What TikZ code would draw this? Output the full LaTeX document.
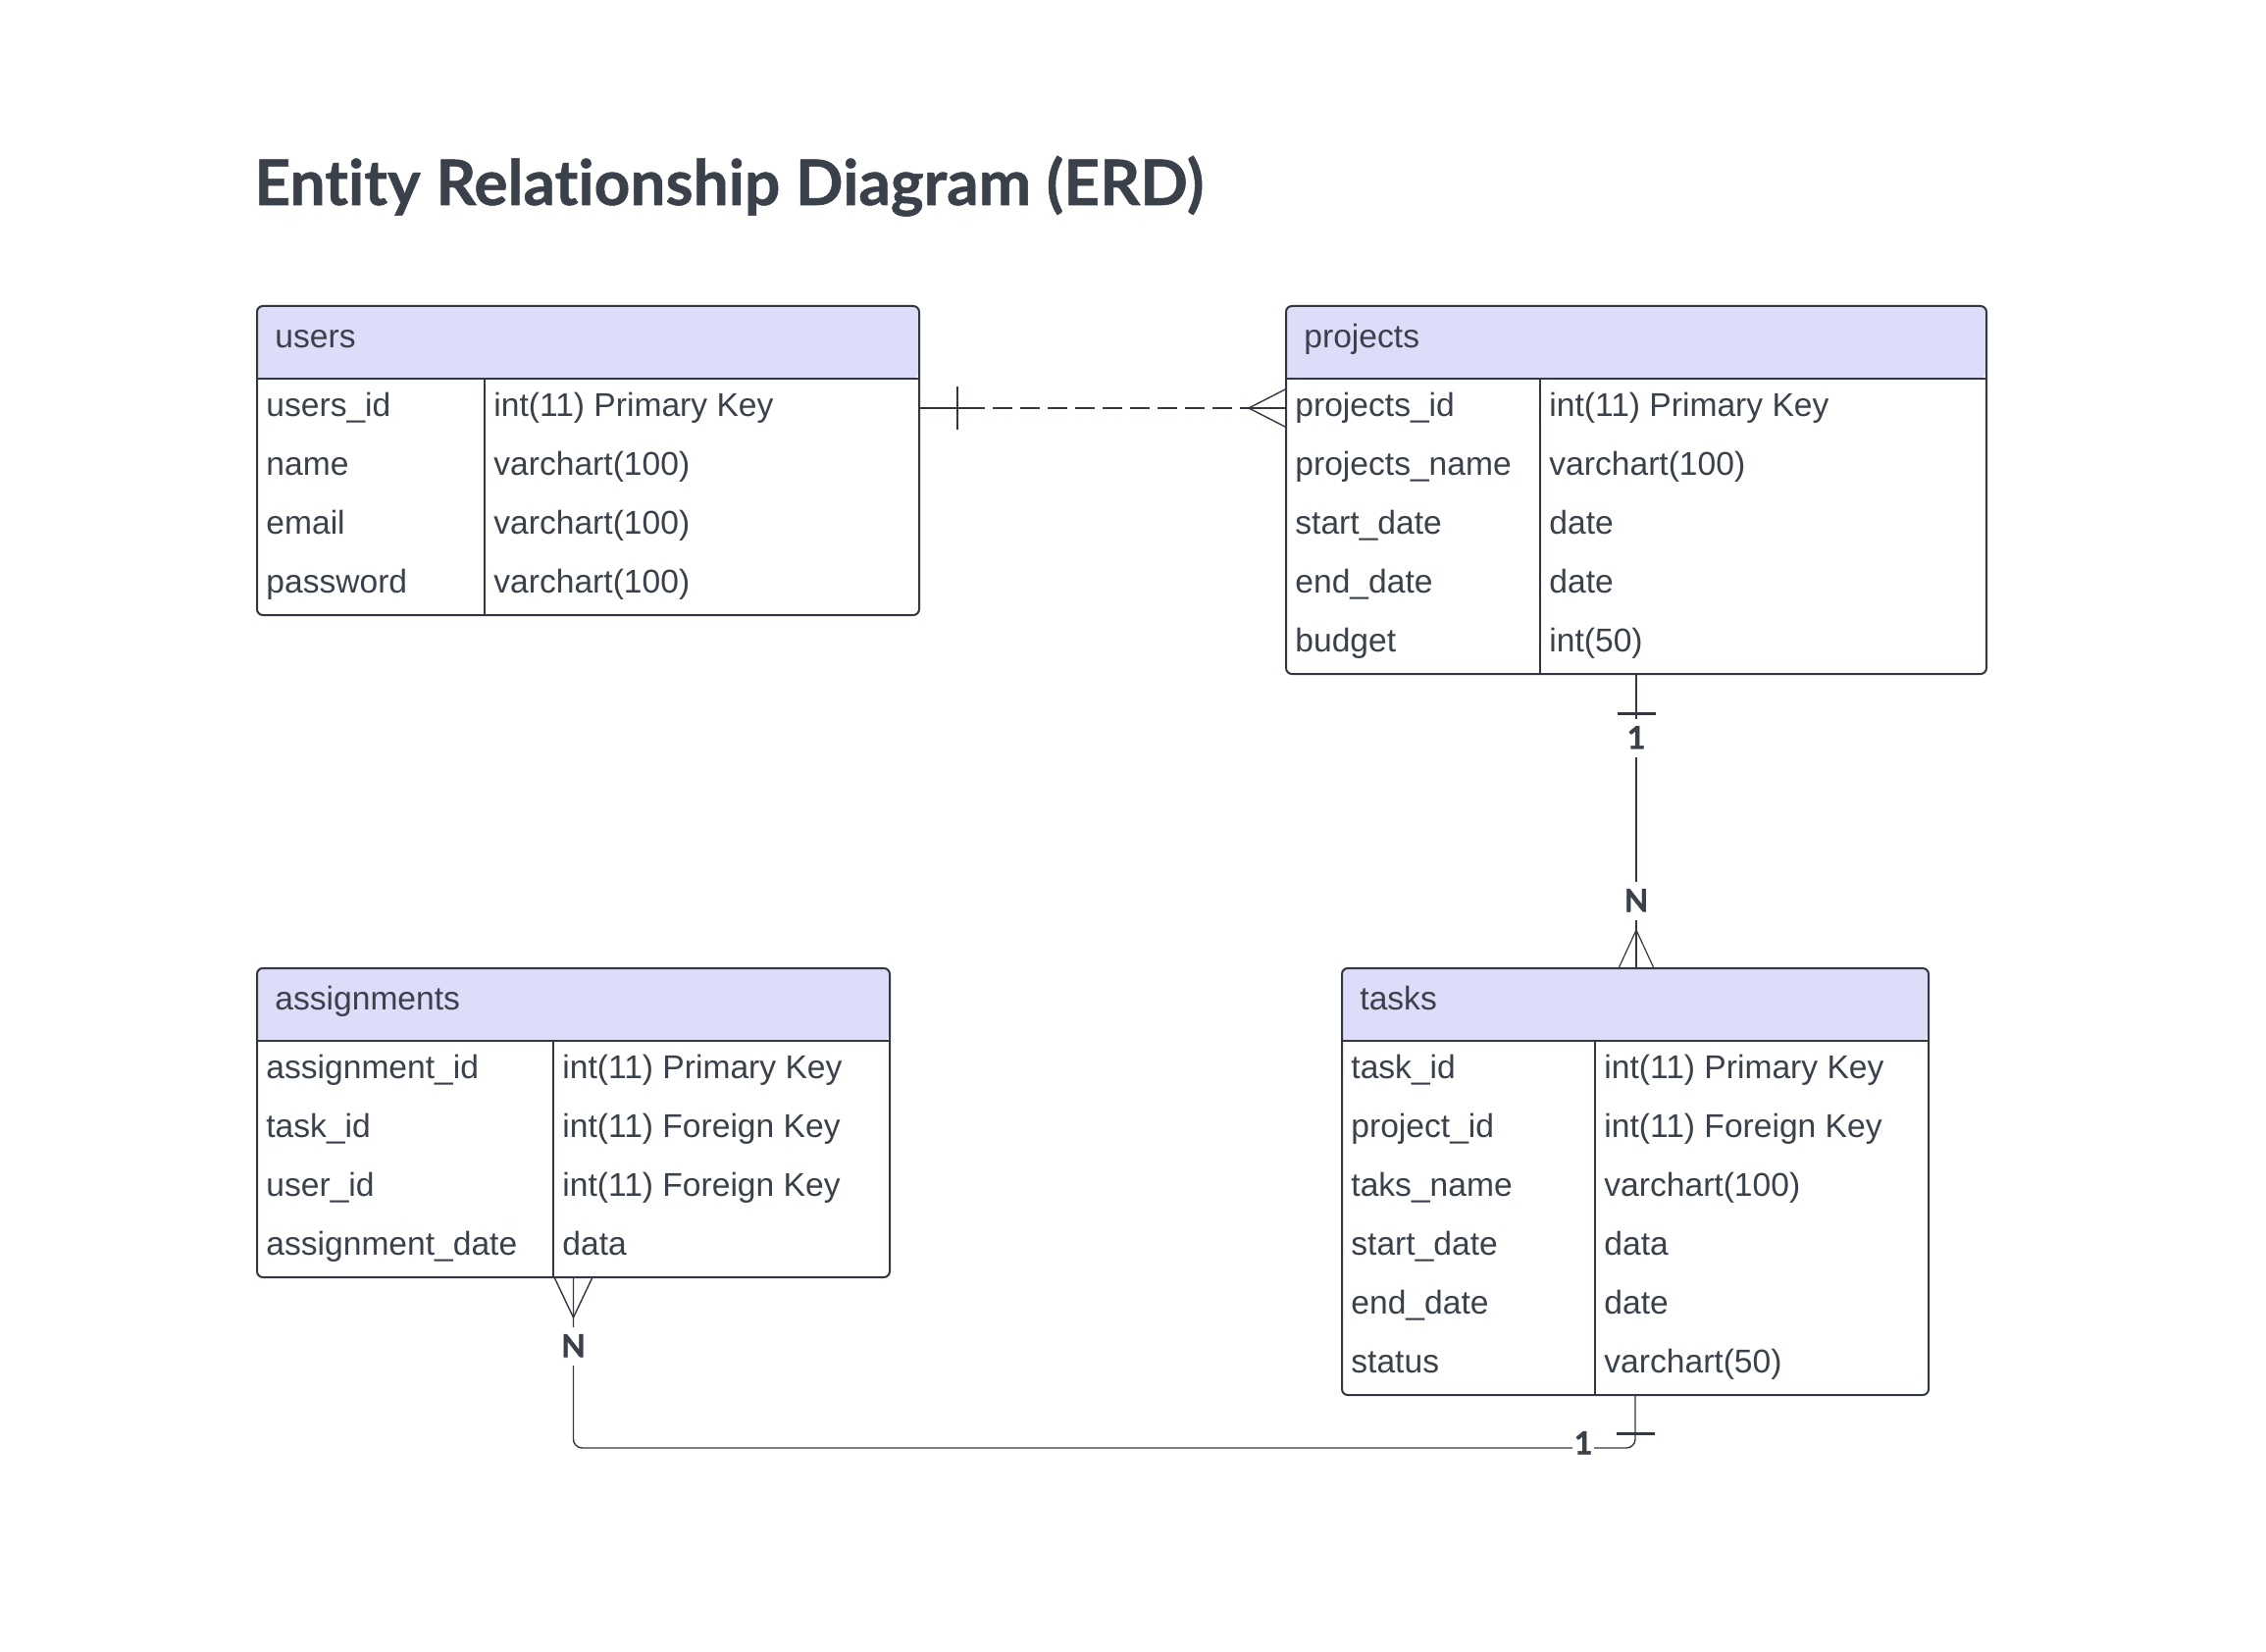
\documentclass[tikz,border=0pt]{standalone}
\usepackage{fontspec}
\setmainfont{Liberation Sans}
\newfontfamily\titlefont{Lato}[Ligatures={NoCommon,NoRare}, BoldFeatures={FakeBold=0.8}]
\newfontfamily\labelfont{Lato}[Ligatures={NoCommon,NoRare}, BoldFeatures={FakeBold=1.2}]
\usetikzlibrary{calc}
\definecolor{ink}{RGB}{58,65,74}
\definecolor{hdrfill}{RGB}{221,221,250}
\definecolor{edgec}{RGB}{51,56,64}
\tikzset{
  tcell/.style={anchor=west, inner sep=0pt, text height=12pt, text depth=3.5pt, font=\fontsize{16.8}{20}\selectfont, text=ink},
  tblframe/.style={draw=edgec, line width=1pt},
  cline/.style={draw=edgec, line width=0.7pt},
  tickline/.style={draw=edgec, line width=1.5pt},
  footline/.style={draw=edgec, line width=0.6pt},
  lbl/.style={font=\labelfont\bfseries\fontsize{16}{19}\selectfont, text=ink, fill=white, inner xsep=1pt, inner ysep=0pt, text height=11.3pt, text depth=0pt, minimum height=19.5pt},
}
\newcommand\erdtable[8]{%
  \pgfmathsetmacro\eyh{#5+75}%
  \pgfmathsetmacro\eyb{#5+75+60*#6}%
  \pgfmathsetmacro\etw{(#3-#2)*0.5}%
  \pgfmathsetmacro\eth{(75+60*#6)*0.5}%
  \fill[hdrfill] (#2,\eyh) [rounded corners=3pt] -- (#2,#5) -- (#3,#5) -- (#3,\eyh) [sharp corners] -- cycle;
  \node[tblframe, rounded corners=3pt, inner sep=0pt, minimum width=\etw pt, minimum height=\eth pt, anchor=north west] (#1) at (#2,#5) {};
  \draw[tblframe] (#2,\eyh) -- (#3,\eyh);
  \draw[tblframe] (#4,\eyh) -- (#4,\eyb);
  \node[tcell] (#1-title) at ({#2+19},{#5+35}) {#7};
  \foreach \k/\v [count=\i] in {#8} {
    \node[tcell] (#1-k\i) at ({#2+10},{#5+75+60*\i-30}) {\k};
    \node[tcell] (#1-v\i) at ({#4+9},{#5+75+60*\i-30}) {\v};
  }%
}
\begin{document}
\begin{tikzpicture}[x=0.5pt, y=-0.5pt]
\fill[white] (0,0) rectangle (2310,1684);
\useasboundingbox (0,0) rectangle (2310,1684);

\node[anchor=base west, inner sep=0pt, font=\titlefont\bfseries\fontsize{32}{38}\selectfont, text=ink] (title) at (259,209) {Entity Relationship Diagram (ERD)};

\erdtable{users}{261}{936}{494}{311}{4}{users}{users\_id/int(11) Primary Key, name/varchart(100), email/varchart(100), password/varchart(100)}
\erdtable{projects}{1310}{2024}{1570}{311}{5}{projects}{projects\_id/int(11) Primary Key, projects\_name/varchart(100), start\_date/date, end\_date/date, budget/int(50)}
\erdtable{assignments}{261}{906}{564}{986}{4}{assignments}{assignment\_id/int(11) Primary Key, task\_id/int(11) Foreign Key, user\_id/int(11) Foreign Key, assignment\_date/data}
\erdtable{tasks}{1367}{1965}{1626}{986}{6}{tasks}{task\_id/int(11) Primary Key, project\_id/int(11) Foreign Key, taks\_name/varchart(100), start\_date/data, end\_date/date, status/varchart(50)}

% users -- projects
\coordinate (ua) at (users.east |- users-k1);
\coordinate (pa) at (projects.west |- projects-k1);
\coordinate (pf) at ($(pa)+(-37,0)$);
\draw[cline] (ua) -- ++(46,0);
\draw[cline] ($(ua)+(38,-22)$) -- ++(0,44);
\draw[cline, dash pattern=on 10pt off 4pt] ($(ua)+(46,0)$) -- (pf);
\draw[cline] (pf) -- (pa);
\draw[cline] (pf) -- ($(pa)+(0,-19)$);
\draw[cline] (pf) -- ($(pa)+(0,19)$);

% projects -- tasks
\coordinate (tt) at (projects.south |- tasks.north);
\coordinate (tf) at ($(tt)+(0,-38)$);
\draw[cline] (projects.south) -- (tt);
\draw[tickline] ($(projects.south)+(-19.5,39)$) -- ++(39,0);
\draw[footline] (tf) -- ($(tt)+(-17.5,0)$);
\draw[footline] (tf) -- ($(tt)+(17.5,0)$);
\node[lbl] (lone1) at ($(projects.south)+(0,64)$) {1};
\node[lbl] (ln1) at ($(tt)+(0,-68)$) {N};

% tasks -- assignments
\coordinate (af) at ($(assignments.south)+(0,40)$);
\draw[cline, rounded corners=4.5pt] (tasks.south) -- ++(0,53) -| (assignments.south);
\draw[tickline] ($(tasks.south)+(-19.5,38)$) -- ++(39,0);
\draw[cline] (af) -- ($(assignments.south)+(-19,0)$);
\draw[cline] (af) -- ($(assignments.south)+(19,0)$);
\node[lbl] (lone2) at ($(tasks.south)+(-53,48)$) {1};
\node[lbl] (ln2) at ($(assignments.south)+(0,69)$) {N};
\end{tikzpicture}
\end{document}
